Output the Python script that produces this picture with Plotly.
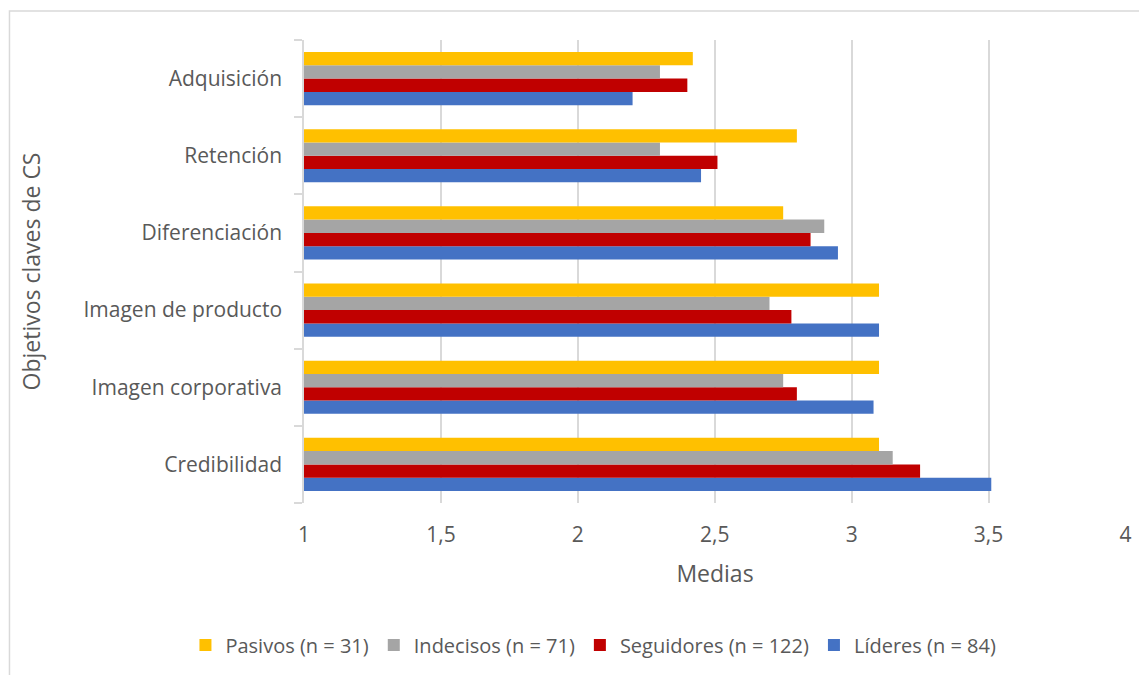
import plotly.graph_objects as go

categorias = ['Credibilidad', 'Imagen corporativa', 'Imagen de producto',
              'Diferenciación', 'Retención', 'Adquisición']

lideres = [3.51, 3.08, 3.10, 2.95, 2.45, 2.20]
seguidores = [3.25, 2.80, 2.78, 2.85, 2.51, 2.40]
indecisos = [3.15, 2.75, 2.70, 2.90, 2.30, 2.30]
pasivos = [3.10, 3.10, 3.10, 2.75, 2.80, 2.42]

x_ticks = [1, 1.5, 2, 2.5, 3, 3.5, 4]
x_tick_labels = ['1', '1,5', '2', '2,5', '3', '3,5', '4']

series = [
    ('Líderes (n = 84)', lideres, '#4472C4', 4),
    ('Seguidores (n = 122)', seguidores, '#C00000', 3),
    ('Indecisos (n = 71)', indecisos, '#A5A5A5', 2),
    ('Pasivos (n = 31)', pasivos, '#FFC000', 1),
]

font_family = 'Open Sans, sans-serif'
text_color = '#595959'

fig = go.Figure()
for name, values, color, rank in series:
    fig.add_trace(go.Bar(
        y=categorias,
        x=values,
        name=name,
        orientation='h',
        marker=dict(color=color, line=dict(width=0)),
        legendrank=rank,
    ))

# the page body has an 8px margin, so the figure is sized/offset for it
fig.update_layout(
    barmode='group',
    bargap=0.31,
    bargroupgap=0,
    width=1139,
    height=667,
    plot_bgcolor='white',
    paper_bgcolor='white',
    font=dict(family=font_family, size=21, color=text_color),
    margin=dict(l=296, r=21, t=32, b=172, autoexpand=False),
    showlegend=True,
    legend=dict(
        orientation='h',
        x=0.514, xanchor='center', xref='container',
        y=0.045, yanchor='middle', yref='container',
        font=dict(size=20, color=text_color),
        itemwidth=30,
        traceorder='normal',
    ),
    xaxis=dict(
        range=[1, 4.002],
        tickvals=x_ticks,
        ticktext=x_tick_labels,
        showgrid=True,
        gridcolor='#D9D9D9',
        gridwidth=1.5,
        zeroline=False,
        showline=False,
        ticks='',
        ticklabelstandoff=17,
        tickfont=dict(size=21, color=text_color),
        title=dict(text='Medias', font=dict(size=23, color=text_color), standoff=18),
    ),
    yaxis=dict(
        showline=True,
        linecolor='#D9D9D9',
        linewidth=1.5,
        ticks='outside',
        tickson='boundaries',
        ticklen=8,
        tickcolor='#D9D9D9',
        tickwidth=1.5,
        ticklabelstandoff=16,
        tickfont=dict(size=21, color=text_color),
        title=dict(text='Objetivos claves de CS', font=dict(size=23, color=text_color),
                   standoff=36),
        showgrid=False,
    ),
    shapes=[dict(
        type='rect', xref='paper', yref='paper',
        x0=-0.3583, x1=1.04, y0=-0.40, y1=1.0626,
        line=dict(color='#D9D9D9', width=1.5),
        fillcolor='rgba(0,0,0,0)',
        layer='below',
    )],
)

fig.write_html('out.html')
